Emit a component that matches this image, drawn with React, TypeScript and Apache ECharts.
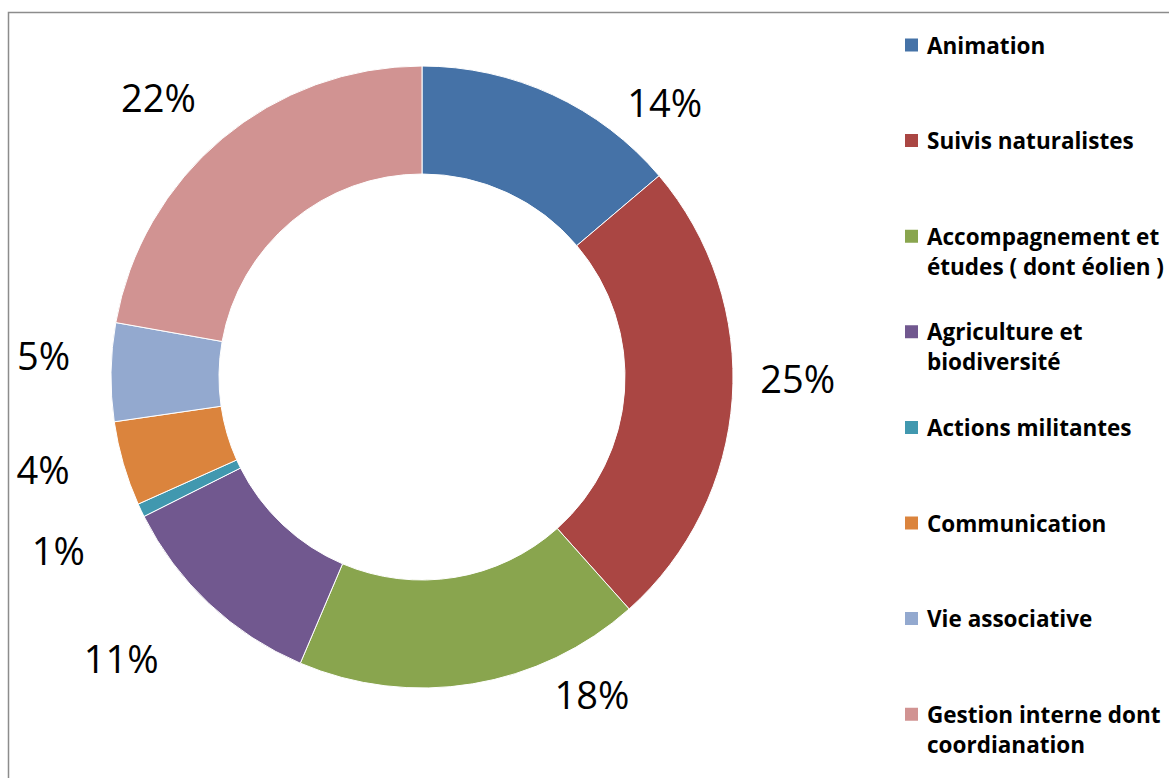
import React, { useEffect, useRef } from "react";
import * as echarts from "echarts";

const CATEGORIES = [
  "Animation",
  "Suivis naturalistes",
  "Accompagnement et\nétudes ( dont éolien )",
  "Agriculture et\nbiodiversité",
  "Actions militantes",
  "Communication",
  "Vie associative",
  "Gestion interne dont\ncoordianation",
];
const VALUES = [13.8, 24.6, 18.0, 11.2, 0.7, 4.4, 5.1, 22.2];
const COLORS = ["#4572A7", "#AA4643", "#89A54E", "#71588F", "#4198AF", "#DB843D", "#93A9CF", "#D19392"];

// layout nudges for the percentage labels (Excel "best fit" placement)
const LABEL_NUDGES: [number, number][] = [
  [57, 34],
  [-7, -23],
  [72, -19],
  [-25, 32],
  [-24, 27],
  [-20, -3],
  [-6, -17],
  [-2, -19],
];

export default function App() {
  const ref = useRef<HTMLDivElement>(null);
  useEffect(() => {
    if (!ref.current) return;
    const chart = echarts.init(ref.current, null, { renderer: "svg" });
    const legends = CATEGORIES.map((name, i) => {
      const centerY = 45 + i * 95.6;
      const multi = name.includes("\n");
      return {
        orient: "vertical",
        left: 903,
        top: centerY - (multi ? 45 : 15),
        padding: 0,
        data: [name],
        icon: "rect",
        itemWidth: 15,
        itemHeight: 15,
        selectedMode: false,
        formatter: (n: string) => (n.includes("\n") ? "\n" + n : n),
        textStyle: {
          fontFamily: "Open Sans",
          fontWeight: "bold",
          fontSize: 22.5,
          lineHeight: 30,
          color: "#000",
          padding: [0, 0, 0, 3],
        },
      };
    });
    chart.setOption({
      animation: false,
      color: COLORS,
      legend: legends,
      graphic: [
        {
          type: "rect",
          shape: { x: 8.5, y: 12.5, width: 1400, height: 900 },
          style: { fill: "none", stroke: "#8c8c8c", lineWidth: 1.5 },
          silent: true,
        },
      ],
      series: [
        {
          type: "pie",
          center: [422, 377],
          radius: [203, 311],
          startAngle: 90,
          clockwise: true,
          avoidLabelOverlap: false,
          itemStyle: { borderColor: "#fff", borderWidth: 1 },
          label: {
            show: true,
            position: "outside",
            formatter: (p: any) => Math.round(p.value) + "%",
            fontFamily: "Open Sans",
            fontSize: 38,
            color: "#000",
          },
          labelLine: { show: false, length: 30, length2: 0 },
          labelLayout: (p: any) => ({ dx: LABEL_NUDGES[p.dataIndex][0], dy: LABEL_NUDGES[p.dataIndex][1] }),
          data: CATEGORIES.map((name, i) => ({ name, value: VALUES[i] })),
        },
      ],
    });
    return () => chart.dispose();
  }, []);
  return <div ref={ref} style={{ position: "absolute", left: 0, top: 0, width: 1169, height: 778 }} />;
}
